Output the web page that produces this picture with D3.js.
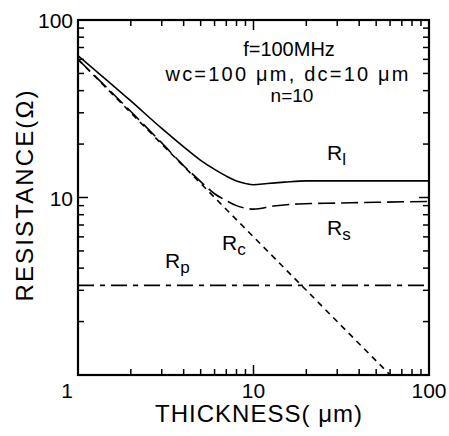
<!DOCTYPE html>
<html>
<head>
<meta charset="utf-8">
<script src="https://cdn.jsdelivr.net/npm/d3@7"></script>
<style>
  body { margin: 0; background: #fff; }
  text { font-family: "Liberation Sans", Arial, sans-serif; fill: #000; }
</style>
</head>
<body>
<div id="chart"></div>
<script>
// thickness (um) vs resistance (ohm)
const thickRl = [1, 2, 3, 4, 5, 6, 7, 8, 9, 10, 12, 15, 20, 30, 50, 100];
const valRl   = [63, 35, 24.5, 19.3, 16.2, 14.4, 13.2, 12.4, 12.0, 11.8, 12.0, 12.2, 12.4, 12.4, 12.4, 12.4];

const thickRs = [1, 2, 3, 4, 5, 6, 7, 8, 9, 10, 13, 18, 30, 50, 100];
const valRs   = [60, 30.5, 20.3, 15.1, 12.3, 10.5, 9.6, 9.0, 8.7, 8.6, 8.95, 9.2, 9.3, 9.4, 9.5];

const thickRc = [1, 2, 5, 10, 20, 40, 62];
const valRc   = [60, 30, 12, 6, 3, 1.5, 0.97];

const thickRp = [1, 100];
const valRp   = [3.2, 3.2];

const xTickLabels = ["1", "10", "100"];
const yTickLabels = ["1", "10", "100"];

const width = 449, height = 436;
const mLeft = 78, mRight = 429, mTop = 20, mBottom = 375;

const svg = d3.select("#chart")
    .append("svg")
    .attr("width", width)
    .attr("height", height);

const x = d3.scaleLog().domain([1, 100]).range([mLeft, mRight]);
const y = d3.scaleLog().domain([1, 100]).range([mBottom, mTop]);

svg.append("clipPath").attr("id", "plot")
    .append("rect")
    .attr("x", mLeft).attr("y", mTop)
    .attr("width", mRight - mLeft).attr("height", mBottom - mTop);

// ticks, all pointing inward
const minor = [];
for (let d = 1; d < 100; d *= 10)
    for (let k = 2; k <= 9; k++) minor.push(d * k);
const major = [1, 10, 100];

const tickG = svg.append("g").attr("stroke", "#000").attr("stroke-width", 1.5);
function ticks(vals, len) {
    vals.forEach(v => {
        tickG.append("line").attr("x1", x(v)).attr("x2", x(v)).attr("y1", mBottom).attr("y2", mBottom - len);
        tickG.append("line").attr("x1", x(v)).attr("x2", x(v)).attr("y1", mTop).attr("y2", mTop + len);
        tickG.append("line").attr("y1", y(v)).attr("y2", y(v)).attr("x1", mLeft).attr("x2", mLeft + len);
        tickG.append("line").attr("y1", y(v)).attr("y2", y(v)).attr("x1", mRight).attr("x2", mRight - len);
    });
}
ticks(minor, 6);
ticks(major, 10);

svg.append("rect")
    .attr("x", mLeft).attr("y", mTop)
    .attr("width", mRight - mLeft).attr("height", mBottom - mTop)
    .attr("fill", "none").attr("stroke", "#000").attr("stroke-width", 2.2);

// tick labels
svg.selectAll(".xl").data(xTickLabels).enter().append("text")
    .attr("x", d => x(+d) + (d === "1" ? -11 : 0))
    .attr("y", 398)
    .attr("text-anchor", "middle")
    .attr("font-size", 21)
    .text(d => d);

svg.selectAll(".yl").data(yTickLabels.filter(d => d !== "1")).enter().append("text")
    .attr("x", 73)
    .attr("y", d => y(+d) + 8)
    .attr("text-anchor", "end")
    .attr("font-size", 21)
    .text(d => d);

// axis titles
svg.append("text")
    .attr("x", 155).attr("y", 422)
    .attr("font-size", 24)
    .attr("textLength", 207)
    .text("THICKNESS( μm)");

svg.append("text")
    .attr("transform", "translate(33,196) rotate(-90)")
    .attr("text-anchor", "middle")
    .attr("font-size", 24)
    .attr("textLength", 211)
    .text("RESISTANCE(Ω)");

// curves
const line = d3.line().x(d => x(d[0])).y(d => y(d[1])).curve(d3.curveMonotoneX);
const series = [
    { t: thickRl, v: valRl, dash: null },
    { t: thickRs, v: valRs, dash: "17,6" },
    { t: thickRc, v: valRc, dash: "6,5" },
    { t: thickRp, v: valRp, dash: "16,6,5,6" }
];
svg.append("g").attr("clip-path", "url(#plot)")
    .selectAll("path").data(series).enter().append("path")
    .attr("d", s => line(s.t.map((t, i) => [t, s.v[i]])))
    .attr("fill", "none")
    .attr("stroke", "#000")
    .attr("stroke-width", 1.6)
    .attr("stroke-dasharray", s => s.dash);

// curve labels
const labels = [
    { x: 327, y: 160, sub: "l" },
    { x: 327, y: 235, sub: "s" },
    { x: 222, y: 250, sub: "c" },
    { x: 165, y: 268, sub: "p" }
];
labels.forEach(l => {
    const t = svg.append("text").attr("x", l.x).attr("y", l.y).attr("font-size", 21);
    t.append("tspan").text("R");
    t.append("tspan").attr("dy", 5).attr("font-size", 17).text(l.sub);
});

// conditions text
const info = svg.append("g").attr("font-size", 20).attr("text-anchor", "middle");
info.append("text").attr("x", 289).attr("y", 56).text("f=100MHz");
info.append("text").attr("x", 287).attr("y", 81).attr("textLength", 243).text("wc=100 μm, dc=10 μm");
info.append("text").attr("x", 292).attr("y", 102).attr("font-size", 19).text("n=10");
</script>
</body>
</html>
